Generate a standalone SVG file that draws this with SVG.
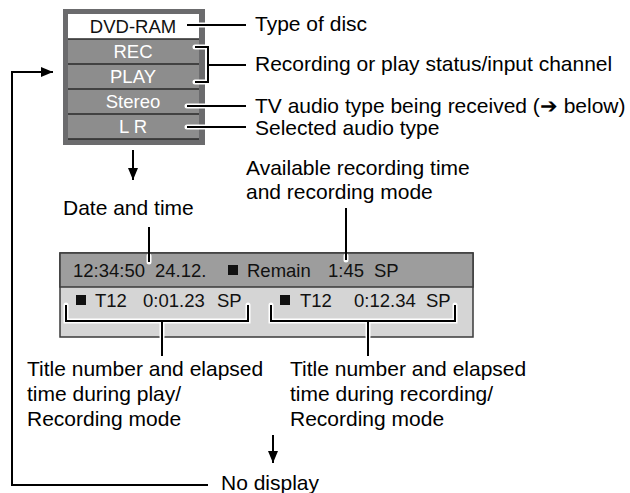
<svg xmlns="http://www.w3.org/2000/svg" width="630" height="493" viewBox="0 0 630 493">
<style>
text{font-family:"Liberation Sans",Arial,Helvetica,sans-serif;}
.lbl{font-size:21px;fill:#000;}
.cell{font-size:18.5px;fill:#fff;text-anchor:middle;}
.st{font-size:18.5px;fill:#111;}
.ln{stroke:#000;stroke-width:2;fill:none;}
.halo{stroke:#fff;stroke-width:5;fill:none;stroke-linecap:round;}
.rowline{stroke:#2a2a2a;stroke-width:1.5;}
</style>
<defs>
<marker id="ah" viewBox="0 0 12 10" refX="12" refY="5" markerWidth="12" markerHeight="10" markerUnits="userSpaceOnUse" orient="auto">
<path d="M0,0 L12,5 L0,10 Z" fill="#000"/>
</marker>
</defs>
<rect width="630" height="493" fill="#fff"/>

<g id="osd-box">
<rect x="63" y="9" width="142" height="136" fill="#6b6b6d"/>
<rect x="68" y="14" width="131" height="25" fill="#fff"/>
<rect x="68" y="39" width="131" height="100" fill="#8d8d8d"/>
<line class="rowline" x1="68" y1="39" x2="199" y2="39"/>
<line class="rowline" x1="68" y1="64" x2="199" y2="64"/>
<line class="rowline" x1="68" y1="89" x2="199" y2="89"/>
<line class="rowline" x1="68" y1="114" x2="199" y2="114"/>
<line class="rowline" x1="68" y1="139" x2="199" y2="139"/>
<text x="133" y="33" class="cell" style="fill:#111">DVD-RAM</text>
<text x="133" y="58" class="cell">REC</text>
<text x="133" y="83" class="cell">PLAY</text>
<text x="133" y="108" class="cell">Stereo</text>
<text x="133" y="133" class="cell">L R</text>
</g>

<g id="status-box">
<rect x="60" y="253" width="413" height="84" fill="#d5d5d5" stroke="#3a3a3a" stroke-width="1.5"/>
<rect x="60" y="253" width="413" height="34" fill="#9d9d9d" stroke="#3a3a3a" stroke-width="1.5"/>
<text x="73" y="277" class="st">12:34:50</text>
<text x="155" y="277" class="st">24.12.</text>
<rect x="228" y="265" width="10" height="10" fill="#111"/>
<text x="247" y="277" class="st">Remain</text>
<text x="328" y="277" class="st">1:45</text>
<text x="374" y="277" class="st">SP</text>
<rect x="76" y="295" width="10" height="10" fill="#111"/>
<text x="95" y="307" class="st">T12</text>
<text x="143" y="307" class="st">0:01.23</text>
<text x="217" y="307" class="st">SP</text>
<rect x="280" y="295" width="10" height="10" fill="#111"/>
<text x="300" y="307" class="st">T12</text>
<text x="354" y="307" class="st">0:12.34</text>
<text x="426" y="307" class="st">SP</text>
</g>

<g id="labels">
<text x="255" y="31" class="lbl">Type of disc</text>
<text x="255" y="71" class="lbl">Recording or play status/input channel</text>
<text x="255" y="113" class="lbl">TV audio type being received (➔ below)</text>
<text x="255" y="135" class="lbl">Selected audio type</text>
<text x="246" y="175" class="lbl">Available recording time</text>
<text x="246" y="199" class="lbl">and recording mode</text>
<text x="63" y="215" class="lbl">Date and time</text>
<text x="27" y="376" class="lbl">Title number and elapsed</text>
<text x="27" y="401" class="lbl">time during play/</text>
<text x="27" y="426" class="lbl">Recording mode</text>
<text x="290" y="376" class="lbl">Title number and elapsed</text>
<text x="290" y="401" class="lbl">time during recording/</text>
<text x="290" y="426" class="lbl">Recording mode</text>
<text x="221" y="490" class="lbl">No display</text>
</g>

<g id="connectors">
<!-- halos -->
<path class="halo" d="M187,25 H205 M195,47 H208 V82 H195 M187,106 H205 M187,127 H205"/>
<path class="halo" d="M149,256 V262 M346,256 V260"/>
<path class="halo" d="M66,305 V321 H248 V305 M271,305 V321 H455 V305 M162,321 V337 M368,321 V337"/>
<!-- leaders -->
<path class="ln" d="M187,25 H246"/>
<path class="ln" d="M195,47 H208 V82 H195 M208,65 H246"/>
<path class="ln" d="M187,106 H246"/>
<path class="ln" d="M187,127 H246"/>
<path class="ln" d="M149,227 V262"/>
<path class="ln" d="M346,208 V260"/>
<path class="ln" d="M66,305 V321 H248 V305 M162,321 V356"/>
<path class="ln" d="M271,305 V321 H455 V305 M368,321 V356"/>
<!-- flow arrows -->
<path class="ln" d="M133,150 V180" marker-end="url(#ah)"/>
<path class="ln" d="M273,435 V463" marker-end="url(#ah)"/>
<path class="ln" d="M208,485 H12 V72 H53" marker-end="url(#ah)"/>
</g>
</svg>
